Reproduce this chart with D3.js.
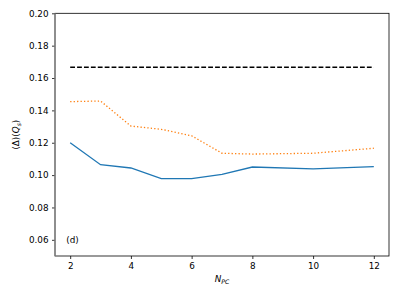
<!DOCTYPE html>
<html>
<head>
<meta charset="utf-8">
<script src="https://cdn.jsdelivr.net/npm/d3@7"></script>
<style>
  body { margin: 0; background: #fff; }
  text { font-family: "DejaVu Sans", sans-serif; fill: #000; }
</style>
</head>
<body>
<div id="chart"></div>
<script>
// number of principal components
var nPC = [2, 3, 4, 5, 6, 7, 8, 10, 12];
// solid blue series
var seriesSolid = [0.1200, 0.1064, 0.1044, 0.0978, 0.0978, 0.1004, 0.1050, 0.1038, 0.1052];
// dotted orange series
var seriesDotted = [0.1454, 0.1458, 0.1303, 0.1283, 0.1243, 0.1135, 0.1130, 0.1135, 0.1166];
// reference level (dashed)
var refLevel = 1 / 6;
var xTicks = [2, 4, 6, 8, 10, 12];
var yTicks = [0.06, 0.08, 0.10, 0.12, 0.14, 0.16, 0.18, 0.20];

var W = 399, H = 299;
// plot box (window.top is reserved, so use other names)
var pL = 55, pR = 389, pT = 13.3, pB = 256;
var fs = 8.8;

var svg = d3.select("#chart").append("svg")
  .attr("width", W).attr("height", H);

svg.append("rect").attr("width", W).attr("height", H).style("fill", "#ffffff");

var x = d3.scaleLinear().domain([1.5, 12.5]).range([pL, pR]);
var y = d3.scaleLinear().domain([0.05, 0.20]).range([pB, pT]);

// axes
var xAxis = svg.append("g")
  .attr("transform", "translate(0," + pB + ")")
  .call(d3.axisBottom(x).tickValues(xTicks).tickSize(3).tickPadding(3.5).tickFormat(d3.format("d")));
var yAxis = svg.append("g")
  .attr("transform", "translate(" + pL + ",0)")
  .call(d3.axisLeft(y).tickValues(yTicks).tickSize(3).tickPadding(3.5).tickFormat(d3.format(".2f")));

[xAxis, yAxis].forEach(function(g) {
  g.select(".domain").remove();
  g.selectAll(".tick line").style("stroke", "#000").style("stroke-width", "0.8px");
  g.selectAll(".tick text").style("font-size", fs + "px").style("font-family", "DejaVu Sans").attr("fill", "#000");
});

// lines
var line = d3.line()
  .x(function(d) { return x(d[0]); })
  .y(function(d) { return y(d[1]); });

svg.append("path")
  .datum(nPC.map(function(n, i) { return [n, seriesDotted[i]]; }))
  .attr("d", line)
  .style("fill", "none")
  .style("stroke", "#ff7f0e")
  .style("stroke-width", "1.3px")
  .style("stroke-dasharray", "1.3,2.15");

svg.append("path")
  .datum(nPC.map(function(n, i) { return [n, seriesSolid[i]]; }))
  .attr("d", line)
  .style("fill", "none")
  .style("stroke", "#1f77b4")
  .style("stroke-width", "1.3px");

svg.append("path")
  .datum([[nPC[0], refLevel], [nPC[nPC.length - 1], refLevel]])
  .attr("d", line)
  .style("fill", "none")
  .style("stroke", "#000")
  .style("stroke-width", "1.3px")
  .style("stroke-dasharray", "4.8,2.1");

// spines
svg.append("rect")
  .attr("x", pL).attr("y", pT)
  .attr("width", pR - pL).attr("height", pB - pT)
  .style("fill", "none").style("stroke", "#000").style("stroke-width", "0.8px");
svg.append("line")
  .attr("x1", pL).attr("y1", pT).attr("x2", pL).attr("y2", pB)
  .style("stroke", "#8a8a8a").style("stroke-width", "1.4px");

// panel label
svg.append("text")
  .attr("x", 66.3).attr("y", 243.3)
  .style("font-size", fs + "px")
  .text("(d)");

// axis labels
var xl = svg.append("text")
  .attr("x", (pL + pR) / 2).attr("y", 282)
  .attr("text-anchor", "middle")
  .style("font-size", fs + "px");
xl.append("tspan").style("font-style", "italic").text("N");
xl.append("tspan").style("font-style", "italic").style("font-size", (fs * 0.7) + "px").attr("dy", "1.5").text("PC");

var yl = svg.append("text")
  .attr("transform", "translate(19," + ((pT + pB) / 2) + ") rotate(-90)")
  .attr("text-anchor", "middle")
  .style("font-size", fs + "px");
yl.append("tspan").text("(Δ)(");
yl.append("tspan").style("font-style", "italic").text("Q");
yl.append("tspan").style("font-style", "italic").style("font-size", (fs * 0.7) + "px").attr("dy", "1.5").text("s");
yl.append("tspan").attr("dy", "-1.5").text(")");
</script>
</body>
</html>
